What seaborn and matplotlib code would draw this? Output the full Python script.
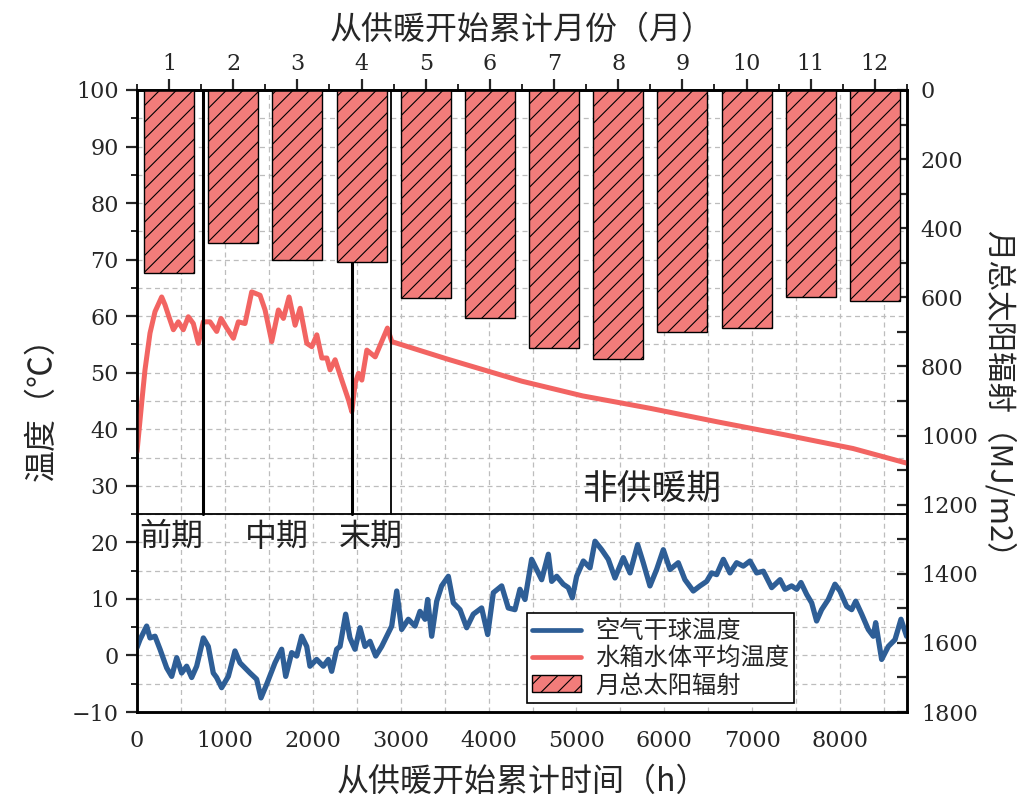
import matplotlib
matplotlib.use("Agg")
import matplotlib.pyplot as plt
from matplotlib.lines import Line2D
from matplotlib.patches import Patch
from matplotlib.ticker import MultipleLocator, FixedLocator
import pandas as pd
import seaborn as sns

# Air dry-bulb temperature (°C) against hours since the start of heating
air_hours = [0, 34, 110, 148, 205, 262, 338, 395, 452, 508, 565, 622, 679, 755, 811,
             868, 906, 963, 1039, 1115, 1172, 1286, 1361, 1411, 1475, 1570, 1646, 1692,
             1760, 1817, 1874, 1931, 1968, 2044, 2120, 2177, 2215, 2272, 2310, 2374,
             2423, 2480, 2537, 2594, 2651, 2716, 2784, 2898, 2955, 3011, 3087, 3163,
             3220, 3277, 3307, 3353, 3410, 3466, 3542, 3599, 3675, 3751, 3826, 3921,
             3990, 4054, 4149, 4224, 4300, 4357, 4414, 4490, 4547, 4604, 4680, 4718,
             4775, 4850, 4907, 4953, 5002, 5078, 5154, 5211, 5287, 5362, 5438, 5533,
             5609, 5696, 5760, 5836, 5912, 5988, 6064, 6158, 6234, 6329, 6405, 6481,
             6538, 6595, 6671, 6746, 6822, 6898, 6974, 7050, 7126, 7221, 7316, 7372,
             7448, 7505, 7554, 7619, 7676, 7732, 7789, 7865, 7941, 7998, 8074, 8131,
             8177, 8245, 8320, 8377, 8404, 8472, 8548, 8624, 8692, 8756]
air_temp = [1.4, 2.8, 5.2, 3.1, 3.4, 1.1, -2.2, -3.7, -0.4, -3.1, -1.9, -3.9, -1.9, 3.1, 1.6,
            -3.1, -3.9, -5.7, -3.7, 0.8, -1.3, -3.1, -4.2, -7.5, -5.1, -1.3, 1.1, -3.7,
            0.5, -0.1, 3.4, 1.6, -1.9, -0.7, -1.9, -0.7, -2.8, 1.1, 1.6, 7.3,
            3.1, 1.1, 4.9, 1.6, 2.5, -0.1, 1.6, 5.2, 11.4, 4.6, 6.4, 5.2,
            7.8, 6.4, 9.9, 3.4, 9.6, 12.3, 14.0, 9.3, 8.1, 4.9, 7.3, 8.4,
            3.7, 11.1, 12.3, 8.4, 8.1, 11.7, 9.9, 17.0, 15.2, 13.4, 17.9, 13.1,
            14.0, 12.6, 12.0, 10.2, 14.0, 16.7, 15.5, 20.2, 18.7, 17.0, 13.7, 17.3,
            14.6, 19.6, 16.4, 12.3, 15.2, 18.7, 15.2, 16.4, 13.4, 11.4, 12.3, 13.1,
            14.6, 14.3, 17.0, 14.6, 16.4, 15.8, 16.7, 14.6, 14.9, 12.0, 13.4, 11.7,
            12.3, 11.7, 12.9, 10.8, 9.3, 6.1, 8.1, 9.9, 12.6, 11.4, 8.7, 8.1,
            9.6, 7.3, 4.6, 3.4, 5.8, -0.7, 1.6, 2.8, 6.4, 3.4]

# Mean water temperature in the storage tank (°C)
tank_hours = [0, 53, 91, 148, 205, 281, 319, 357, 414, 470, 527, 584, 641, 698, 755,
              831, 907, 956, 1021, 1097, 1153, 1229, 1305, 1400, 1457, 1533, 1609,
              1666, 1730, 1799, 1856, 1932, 1989, 2046, 2103, 2160, 2197, 2254, 2330,
              2406, 2444, 2482, 2520, 2558, 2615, 2710, 2849, 2899, 3534, 4379, 5071,
              5840, 6608, 7377, 8146, 8760]
tank_temp = [36.0, 44.6, 50.5, 57.0, 60.8, 63.4, 62.0, 60.2, 57.6, 59.0, 57.6, 59.9, 58.7,
             55.2, 59.0, 59.0, 57.3, 59.6, 57.9, 56.1, 59.0, 58.7, 64.3, 63.7, 61.1,
             55.5, 61.1, 59.6, 63.4, 58.4, 61.4, 55.2, 54.6, 56.7, 52.6, 52.6, 50.5,
             52.3, 48.7, 45.2, 43.1, 48.1, 49.9, 48.7, 54.0, 52.8, 57.9, 55.5, 52.4,
             48.5, 45.9, 43.7, 41.3, 39.0, 36.6, 34.0]

# Monthly total solar radiation (MJ/m2)
months = list(range(1, 13))
month_radiation = [530, 443, 493, 497, 602, 660, 746, 778, 701, 688, 598, 610]

# Heating-period boundaries (h) and their labels
period_bounds = [750, 2445, 2887]
period_labels = ["前期", "中期", "末期"]
period_label_hours = [30, 1230, 2300]
non_heating_label = "非供暖期"

year_hours = 8760
hours_per_month = year_hours / 12

blue = "#2E5E96"
red = "#F26462"
bar_face = "#F27C7A"

sns.set_style("white")
cjk = ["Noto Sans CJK SC", "DejaVu Sans"]
plt.rcParams["font.family"] = ["DejaVu Serif", "Noto Sans CJK SC"]
plt.rcParams["hatch.linewidth"] = 0.8

fig = plt.figure(figsize=(10.17, 8.02), dpi=100)
ax = fig.add_axes([0.1347, 0.1122, 0.7571, 0.7756])

air_df = pd.DataFrame({"h": air_hours, "t": air_temp})
tank_df = pd.DataFrame({"h": tank_hours, "t": tank_temp})
sns.lineplot(data=air_df, x="h", y="t", ax=ax, color=blue, lw=3.8,
             estimator=None, sort=False, zorder=3)
sns.lineplot(data=tank_df, x="h", y="t", ax=ax, color=red, lw=3.6,
             estimator=None, sort=False, zorder=3)

ax.set_xlim(0, year_hours)
ax.set_ylim(-10, 100)
ax.xaxis.set_major_locator(MultipleLocator(1000))
ax.xaxis.set_minor_locator(MultipleLocator(500))
ax.yaxis.set_major_locator(MultipleLocator(10))
ax.yaxis.set_minor_locator(MultipleLocator(5))
ax.grid(True, which="both", ls=(0, (4, 3)), color="#BDBDBD", lw=0.9)
ax.set_axisbelow(True)

# panel divider and period boundaries
ax.axhline(25, color="black", lw=1.3, zorder=4)
for i, b in enumerate(period_bounds):
    ax.plot([b, b], [25, 100], color="black", lw=2.2 if i < 2 else 1.3, zorder=4)
for lab, h in zip(period_labels, period_label_hours):
    ax.text(h, 21, lab, family=cjk, fontsize=23, ha="left", va="center", color="#222222")
ax.text(5850, 29.3, non_heating_label, family=cjk, fontsize=25, ha="center",
        va="center", color="#222222")

ax.set_xlabel("从供暖开始累计时间（h）", family=cjk, fontsize=23, labelpad=10)
ax.set_ylabel("温度（℃）", family=cjk, fontsize=23, labelpad=10)
ax.tick_params(axis="both", which="major", direction="out", length=8, width=1.6,
               labelsize=16, pad=5)
ax.tick_params(axis="both", which="minor", direction="out", length=4, width=1.4)
ax.tick_params(axis="x", top=False)
ax.tick_params(axis="y", right=False)
for s in ax.spines.values():
    s.set_linewidth(1.8)
    s.set_color("black")

# monthly radiation bars hanging from the top on the right axis
ax2 = ax.twinx()
sns.barplot(x=[(m - 0.5) * hours_per_month for m in months], y=month_radiation,
            native_scale=True, width=0.78, ax=ax2, color=bar_face,
            edgecolor="black", linewidth=1.0, hatch="//", errorbar=None,
            saturation=1, zorder=2)
for p in ax2.patches:
    p.set_facecolor(bar_face)
ax2.set_xlim(0, year_hours)
ax2.set_ylim(1800, 0)
ax2.yaxis.set_major_locator(MultipleLocator(200))
ax2.yaxis.set_minor_locator(MultipleLocator(100))
ax2.tick_params(axis="y", which="both", direction="in", length=7, width=1.6,
                labelsize=16, pad=10)
ax2.tick_params(axis="x", which="both", bottom=False, top=False,
                labelbottom=False)
ax2.set_xlabel("")
ax2.set_ylabel("月总太阳辐射（MJ/m2）", family=cjk, fontsize=22, rotation=270,
               labelpad=26)
for s in ax2.spines.values():
    s.set_linewidth(1.8)
    s.set_color("black")

# month axis along the top
top = ax.secondary_xaxis("top", functions=(lambda h: h / hours_per_month + 0.5,
                                           lambda m: (m - 0.5) * hours_per_month))
top.xaxis.set_major_locator(FixedLocator(months))
top.xaxis.set_minor_locator(FixedLocator([m + 0.5 for m in range(0, 13)]))
top.tick_params(axis="x", which="major", direction="out", length=8, width=1.6,
                labelsize=16, pad=3)
top.tick_params(axis="x", which="minor", direction="out", length=4, width=1.4)
top.spines["top"].set_linewidth(1.8)
top.set_xlabel("从供暖开始累计月份（月）", family=cjk, fontsize=23, labelpad=10)

handles = [Line2D([], [], color=blue, lw=3.4),
           Line2D([], [], color=red, lw=3.4),
           Patch(facecolor=bar_face, edgecolor="black", hatch="//", lw=1.0)]
labels = ["空气干球温度", "水箱水体平均温度", "月总太阳辐射"]
leg = ax2.legend(handles, labels, loc="lower left", bbox_to_anchor=(0.507, 0.014),
                 prop={"family": cjk, "size": 17.5}, frameon=True, fancybox=False,
                 framealpha=1, edgecolor="black", borderpad=0.2,
                 labelspacing=0.05, handlelength=2.0, handletextpad=0.6,
                 borderaxespad=0)
leg.get_frame().set_linewidth(1.2)
leg.set_zorder(10)

fig.savefig("out.png", dpi=100)
